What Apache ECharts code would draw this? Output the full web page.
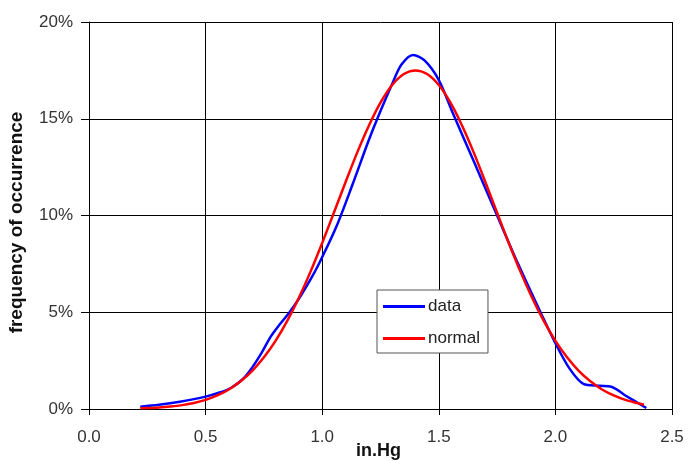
<!DOCTYPE html>
<html>
<head>
<meta charset="utf-8">
<script src="https://cdn.jsdelivr.net/npm/echarts@6/dist/echarts.min.js"></script>
<style>
html,body{margin:0;padding:0;background:#fff;}
#c{width:688px;height:461px;}
</style>
</head>
<body>
<div id="c"></div>
<script>
// x-axis tick labels (in.Hg) and y-axis ticks (%)
var xTicks = [0.0, 0.5, 1.0, 1.5, 2.0, 2.5];
var yTicks = [0, 5, 10, 15, 20];

// "data" series (blue): x in in.Hg, y in % frequency
var dataX = [0.22, 0.30, 0.39, 0.50, 0.56, 0.61, 0.66, 0.70, 0.74, 0.78, 0.82, 0.86, 0.90, 0.95, 0.99, 1.06, 1.13, 1.20, 1.25, 1.30, 1.34, 1.39, 1.44, 1.50, 1.56, 1.65, 1.75, 1.84, 1.94, 2.00, 2.06, 2.12, 2.19, 2.24, 2.30, 2.39];
var dataY = [0.12, 0.22, 0.38, 0.64, 0.85, 1.10, 1.55, 2.15, 2.90, 3.75, 4.40, 5.00, 5.70, 6.70, 7.60, 9.40, 11.6, 13.9, 15.4, 16.8, 17.8, 18.3, 18.0, 17.0, 15.3, 12.8, 10.0, 7.5, 4.9, 3.4, 2.1, 1.3, 1.2, 1.15, 0.7, 0.05];

// "normal" series (red)
var normalX = [0.22, 0.25, 0.30, 0.35, 0.40, 0.45, 0.50, 0.55, 0.60, 0.65, 0.70, 0.75, 0.80, 0.85, 0.90, 0.95, 1.00, 1.05, 1.10, 1.15, 1.20, 1.25, 1.30, 1.35, 1.40, 1.45, 1.50, 1.55, 1.60, 1.65, 1.70, 1.75, 1.80, 1.85, 1.90, 1.95, 2.00, 2.05, 2.10, 2.15, 2.20, 2.25, 2.30, 2.35, 2.38];
var normalY = [0.04, 0.05, 0.08, 0.13, 0.20, 0.31, 0.47, 0.70, 1.01, 1.43, 1.97, 2.67, 3.52, 4.55, 5.75, 7.10, 8.58, 10.14, 11.72, 13.25, 14.64, 15.83, 16.74, 17.31, 17.50, 17.31, 16.74, 15.83, 14.64, 13.25, 11.72, 10.14, 8.58, 7.10, 5.75, 4.55, 3.52, 2.67, 1.97, 1.43, 1.01, 0.70, 0.47, 0.31, 0.22];

function pairs(xs, ys){ return xs.map(function(x,i){ return [x, ys[i]]; }); }

var chart = echarts.init(document.getElementById('c'), null, {renderer:'canvas'});
var font = 'Liberation Sans, Arial, sans-serif';
chart.setOption({
  animation: false,
  backgroundColor: '#ffffff',
  grid: {left: 89, right: 16, top: 22, bottom: 52, containLabel: false, outerBoundsMode: 'none'},
  legend: {
    orient: 'vertical',
    left: 377, top: 290,
    padding: [8, 8, 6, 6],
    itemGap: 15,
    itemWidth: 42, itemHeight: 3,
    icon: 'rect',
    backgroundColor: '#ffffff',
    borderColor: '#555555', borderWidth: 1,
    textStyle: {fontFamily: font, fontSize: 17, color: '#222', padding: [0,0,0,-2], lineHeight: 17},
    data: ['data', 'normal']
  },
  xAxis: {
    type: 'value',
    min: xTicks[0], max: xTicks[xTicks.length-1], interval: 0.5,
    name: 'in.Hg', nameLocation: 'middle', nameGap: 33, nameMoveOverlap: false,
    nameTextStyle: {fontFamily: font, fontSize: 18, fontWeight: 'bold', color: '#111', verticalAlign: 'top', padding: [0, 4, 0, 0]},
    axisLine: {show: true, onZero: false, lineStyle: {color: '#000', width: 1}},
    axisTick: {show: true, inside: false, length: 6, lineStyle: {color: '#000'}},
    axisLabel: {fontFamily: font, fontSize: 17, color: '#333', margin: 20,
      formatter: function(v){ return v.toFixed(1); }},
    splitLine: {show: true, lineStyle: {color: '#000', width: 1}}
  },
  yAxis: {
    type: 'value',
    min: yTicks[0], max: yTicks[yTicks.length-1], interval: 5,
    name: 'frequency of occurrence', nameLocation: 'middle', nameGap: 63, nameMoveOverlap: false,
    nameTextStyle: {fontFamily: font, fontSize: 19, fontWeight: 'bold', color: '#111', padding: [0, 14, 0, 0]},
    axisLine: {show: true, lineStyle: {color: '#000', width: 1}},
    axisTick: {show: true, inside: false, length: 8, lineStyle: {color: '#000'}},
    axisLabel: {fontFamily: font, fontSize: 17, color: '#333', margin: 16, formatter: '{value}%'},
    splitLine: {show: true, lineStyle: {color: '#000', width: 1}}
  },
  series: [
    {name: 'data', type: 'line', data: pairs(dataX, dataY), smooth: 0.3, symbol: 'none',
     color: '#0000ff', lineStyle: {color: '#0000ff', width: 2.5}, z: 3},
    {name: 'normal', type: 'line', data: pairs(normalX, normalY), smooth: 0.3, symbol: 'none',
     color: '#ff0000', lineStyle: {color: '#ff0000', width: 2.5}, z: 4}
  ]
});
</script>
</body>
</html>
